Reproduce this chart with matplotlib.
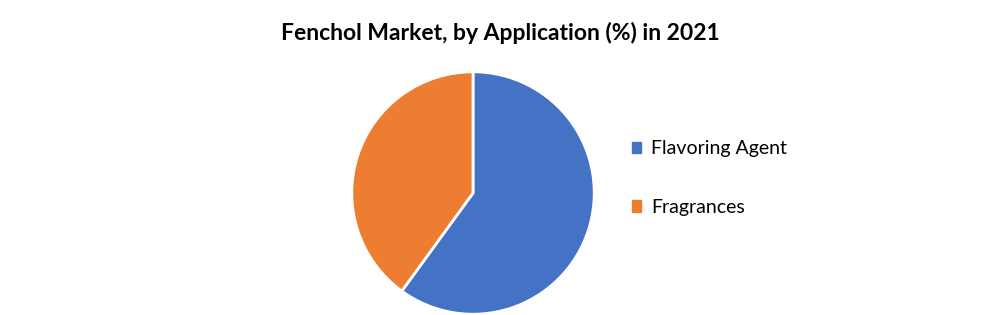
import matplotlib
matplotlib.use("Agg")
import matplotlib.pyplot as plt
from matplotlib.patches import Patch

# données
applications = ["Flavoring Agent", "Fragrances"]
parts = [60, 40]
couleurs = ["#4472C4", "#ED7D31"]

plt.rcParams["font.family"] = ["Lato", "DejaVu Sans"]

fig = plt.figure(figsize=(10, 3.15), dpi=100)
ax = fig.add_axes([0.353, 0.0063, 0.24, 0.762])
ax.pie(parts, colors=couleurs, startangle=90, counterclock=False,
       wedgeprops={"edgecolor": "white", "linewidth": 2})
ax.set_xlim(-0.99, 0.99)
ax.set_ylim(-0.99, 0.99)
ax.set_aspect("equal")
ax.axis("off")

fig.text(0.5, 0.895, "Fenchol Market, by Application (%) in 2021",
         ha="center", va="center", fontsize=16.5, fontweight="bold")

poignees = [Patch(facecolor=c, edgecolor=c) for c in couleurs]
fig.legend(poignees, applications, loc="center left", bbox_to_anchor=(0.614, 0.435),
           frameon=False, fontsize=14, handlelength=0.5, handleheight=0.5,
           handletextpad=0.5, labelspacing=2.15)

fig.savefig("out.png", dpi=100)
